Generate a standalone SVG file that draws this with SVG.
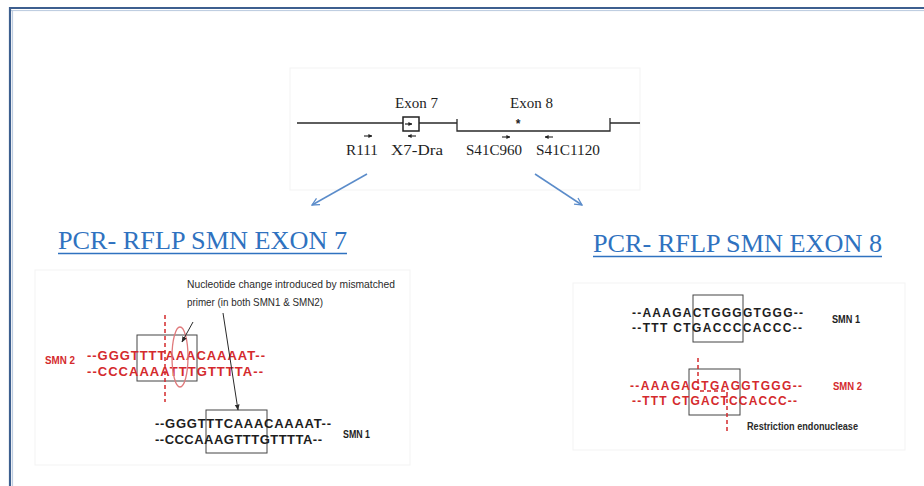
<svg xmlns="http://www.w3.org/2000/svg" width="924" height="486" viewBox="0 0 924 486">
<style>
.serif{font-family:"Liberation Serif","Times New Roman",serif;fill:#1e1e1e;}
.title{font-family:"Liberation Serif","Times New Roman",serif;font-size:25px;fill:#2f72c0;}
.seq{font-family:"Liberation Sans",Arial,sans-serif;font-weight:bold;font-size:13px;}
.seq8{font-family:"Liberation Sans",Arial,sans-serif;font-weight:bold;font-size:12px;}
.blk{fill:#1e1e1e;}
.red{fill:#d42a2d;}
.lbl{font-family:"Liberation Sans",Arial,sans-serif;font-weight:bold;font-size:10px;}
.note{font-family:"Liberation Sans",Arial,sans-serif;font-size:10.5px;fill:#2a2a2a;}
.gline{stroke:#2a2a2a;stroke-width:1.3;fill:none;}
.sbox{stroke:#444;stroke-width:1;fill:none;}
.cut{stroke:#d42a2d;stroke-width:1.5;stroke-dasharray:4 3;fill:none;}
.panel{fill:#fff;stroke:#f3f3f3;stroke-width:1;}
.blue{stroke:#5b8cca;stroke-width:1.5;fill:none;}
.call{stroke:#2a2a2a;stroke-width:1;fill:none;}
</style>
<defs>
<marker id="bh" viewBox="0 0 10 10" refX="9" refY="5" markerWidth="9" markerHeight="9" orient="auto" markerUnits="userSpaceOnUse">
<path d="M1,1 L9,5 L1,9" fill="none" stroke="#5b8cca" stroke-width="1.4"/>
</marker>
<marker id="kh" viewBox="0 0 10 10" refX="9" refY="5" markerWidth="6" markerHeight="6" orient="auto" markerUnits="userSpaceOnUse">
<path d="M0,1 L10,5 L0,9 z" fill="#2a2a2a"/>
</marker>
<marker id="sh" viewBox="0 0 10 10" refX="9" refY="5" markerWidth="4" markerHeight="4" orient="auto" markerUnits="userSpaceOnUse">
<path d="M0,0 L10,5 L0,10 z" fill="#222"/>
</marker>
</defs>
<rect width="924" height="486" fill="#fff"/>
<g id="frame">
<line x1="9" y1="8" x2="924" y2="8" stroke="#3d5f8f" stroke-width="2.2"/>
<line x1="9" y1="10.6" x2="924" y2="10.6" stroke="#b9c9de" stroke-width="1"/>
<line x1="10" y1="7" x2="10" y2="486" stroke="#3d5f8f" stroke-width="2.2"/>
<line x1="12.6" y1="10" x2="12.6" y2="486" stroke="#b9c9de" stroke-width="1"/>
</g>

<g id="gene-map">
<rect class="panel" x="290" y="68" width="350" height="122"/>
<path class="gline" d="M297,123 H403 M419,123 H457 M457,119 V131 H610 V118 M610,123 H640"/>
<rect x="403" y="117" width="16" height="14" fill="none" stroke="#222" stroke-width="1.5"/>
<line x1="405" y1="124" x2="412" y2="124" stroke="#222" stroke-width="1.2" marker-end="url(#sh)"/>
<text class="serif" x="416.5" y="108" font-size="14" text-anchor="middle" textLength="43" lengthAdjust="spacingAndGlyphs">Exon 7</text>
<text class="serif" x="531.5" y="108" font-size="14" text-anchor="middle" textLength="43" lengthAdjust="spacingAndGlyphs">Exon 8</text>
<text x="518" y="128" font-family="Liberation Sans,Arial,sans-serif" font-size="12" font-weight="bold" fill="#222" text-anchor="middle">*</text>
<line x1="364" y1="136" x2="372" y2="136" stroke="#222" stroke-width="1.1" marker-end="url(#sh)"/>
<line x1="416" y1="136" x2="408" y2="136" stroke="#222" stroke-width="1.1" marker-end="url(#sh)"/>
<line x1="502" y1="137" x2="510" y2="137" stroke="#222" stroke-width="1.1" marker-end="url(#sh)"/>
<line x1="553" y1="137" x2="545" y2="137" stroke="#222" stroke-width="1.1" marker-end="url(#sh)"/>
<text class="serif" x="346" y="155" font-size="14" textLength="32" lengthAdjust="spacingAndGlyphs">R111</text>
<text class="serif" x="391" y="155" font-size="14" textLength="52" lengthAdjust="spacingAndGlyphs">X7-Dra</text>
<text class="serif" x="466" y="155" font-size="14" textLength="56" lengthAdjust="spacingAndGlyphs">S41C960</text>
<text class="serif" x="536" y="155" font-size="14" textLength="64" lengthAdjust="spacingAndGlyphs">S41C1120</text>
</g>

<g id="title-exon7">
<text class="title" x="58" y="249" textLength="289" lengthAdjust="spacingAndGlyphs">PCR- RFLP SMN EXON 7</text>
<line x1="58" y1="253.5" x2="347" y2="253.5" stroke="#2f72c0" stroke-width="1.3"/>
</g>
<g id="title-exon8">
<text class="title" x="593" y="252" textLength="289" lengthAdjust="spacingAndGlyphs">PCR- RFLP SMN EXON 8</text>
<line x1="593" y1="256.5" x2="882" y2="256.5" stroke="#2f72c0" stroke-width="1.3"/>
</g>

<g id="exon7-panel">
<rect class="panel" x="35" y="270" width="375" height="195"/>
<text class="note" x="187" y="288" textLength="208" lengthAdjust="spacingAndGlyphs">Nucleotide change introduced by mismatched</text>
<text class="note" x="187" y="306" textLength="136" lengthAdjust="spacingAndGlyphs">primer (in both SMN1 &amp; SMN2)</text>
<g id="smn2-ex7">
<text class="lbl red" x="45" y="364" textLength="30" lengthAdjust="spacingAndGlyphs">SMN 2</text>
<rect class="sbox" x="137" y="335" width="60" height="46"/>
<text class="seq red" x="87" y="360" textLength="178" lengthAdjust="spacing">--GGGTTTTAAACAAAAT--</text>
<text class="seq red" x="87" y="376" textLength="176" lengthAdjust="spacing">--CCCAAAATTTGTTTTA--</text>
<line class="cut" x1="165" y1="315" x2="165" y2="402"/>
<ellipse cx="180" cy="357" rx="8" ry="30" fill="none" stroke="#e07a7c" stroke-width="1.3"/>
</g>
<g id="smn1-ex7">
<rect class="sbox" x="206" y="410" width="61" height="43"/>
<text class="seq blk" x="155" y="428" textLength="176" lengthAdjust="spacing">--GGGTTTCAAACAAAAT--</text>
<text class="seq blk" x="155" y="444" textLength="167" lengthAdjust="spacing">--CCCAAAGTTTGTTTTA--</text>
<text class="lbl blk" x="343" y="438" textLength="27" lengthAdjust="spacingAndGlyphs">SMN 1</text>
</g>
</g>

<g id="exon8-panel">
<rect class="panel" x="573" y="283" width="332" height="167"/>
<g id="smn1-ex8">
<rect class="sbox" x="693" y="295" width="50" height="47"/>
<text class="seq8 blk" x="632" y="317" textLength="171" lengthAdjust="spacing">--AAAGACTGGGGTGGG--</text>
<text class="seq8 blk" x="632" y="332" textLength="170" lengthAdjust="spacing">--TTT CTGACCCCACCC--</text>
<text class="lbl blk" x="832" y="323" textLength="28" lengthAdjust="spacingAndGlyphs">SMN 1</text>
</g>
<g id="smn2-ex8">
<rect class="sbox" x="689" y="369" width="51" height="46"/>
<text class="seq8 red" x="630" y="390" textLength="172" lengthAdjust="spacing">--AAAGACTGAGGTGGG--</text>
<text class="seq8 red" x="632" y="405" textLength="165" lengthAdjust="spacing">--TTT CTGACTCCACCC--</text>
<path class="cut" d="M698,358 V391 H727 V433"/>
<text class="lbl red" x="833" y="390" textLength="29" lengthAdjust="spacingAndGlyphs">SMN 2</text>
<text class="note" x="747" y="430" textLength="111" lengthAdjust="spacingAndGlyphs" font-weight="bold" fill="#333">Restriction endonuclease</text>
</g>
</g>

<g id="connectors">
<line class="blue" x1="367" y1="174" x2="312" y2="205" marker-end="url(#bh)"/>
<line class="blue" x1="535" y1="174" x2="582" y2="205" marker-end="url(#bh)"/>
<line class="call" x1="193" y1="322" x2="182" y2="342" marker-end="url(#kh)"/>
<line class="call" x1="223" y1="313" x2="238" y2="410" marker-end="url(#kh)"/>
</g>
</svg>
